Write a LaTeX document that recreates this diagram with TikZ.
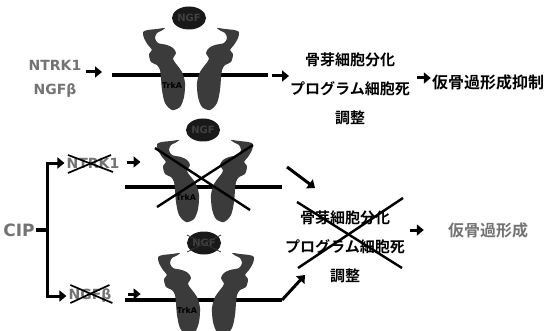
\documentclass[tikz,border=0pt]{standalone}
\usepackage{fontspec}
\usepackage{tikz}
\usetikzlibrary{arrows.meta}
\usetikzlibrary{calc}
\usetikzlibrary{shapes.geometric}
\setmainfont{DejaVu Sans}
\newfontfamily\genefont{DejaVu Sans Bold}
\newfontfamily\jpfont{Noto Sans CJK JP Bold}
\definecolor{labelgray}{gray}{0.45}
\definecolor{trkgray}{gray}{0.23}
\definecolor{ngfdark}{gray}{0.1}
\tikzset{arr/.style={line width=3pt,-{Triangle[length=7pt,width=11pt]}},
  memb/.style={line width=3.2pt},
  cross/.style={line width=2.4pt},
  gene/.style={font=\genefont\fontsize{14}{16}\selectfont,text=labelgray,inner sep=1pt},
  effect/.style={font=\jpfont\fontsize{15}{29}\selectfont,align=center,inner sep=1pt},
  ngf/.style={ellipse,fill=ngfdark,minimum width=34pt,minimum height=23pt,inner sep=0pt,
    text=black!75,font=\genefont\fontsize{10}{10}\selectfont},
  trk/.style={inner sep=0pt,font=\genefont\fontsize{8}{8}\selectfont}}

% left half of TrkA, horn at the top; the right half is its mirror
\newcommand{\trkhalf}{plot[smooth cycle,tension=0.5] coordinates {
  (-26,-47) (-34,-46) (-43,-45) (-48,-43) (-47,-37) (-43,-30) (-39,-25)
  (-42,-21) (-40,-13) (-34,-10) (-31,-5) (-30,3) (-29,15) (-26,28) (-19,35)
  (-11,32) (-7,22) (-6,8) (-9,-3) (-14,-10) (-18,-16) (-15,-22) (-18,-27)
  (-24,-30) (-33,-32) (-36,-37) (-34,-42) (-30,-44)}}

% receptor pair with NGF above it
\newcommand{\receptor}[2]{%
  \begin{scope}[shift={#1}]
    \fill[trkgray] \trkhalf;
    \fill[trkgray,xscale=-1] \trkhalf;
    \node[trk] (trk#2) at (-19,10) {TrkA};
    \node[ngf] (ngf#2) at (-2,-57) {NGF};
  \end{scope}}

\begin{document}
\begin{tikzpicture}[x=1pt,y=-1pt]
\useasboundingbox (0,0) rectangle (545,331);

% normal signalling
\node[gene] (ntrkA) at (55,65) {NTRK1};
\node[gene] (ngfbA) at (55,91) {NGFβ};
\coordinate (mA1) at (112,75);
\coordinate (mA2) at (268,75);
\draw[memb] (mA1) -- (mA2);
\receptor{(191,75)}{A}
\draw[arr] ($(ntrkA.east)+(3,7)$) -- ($(mA1)+(-10,-3)$);
\node[effect] (effA) at (350,89) {骨芽細胞分化\\プログラム細胞死\\調整};
\node[effect,font=\jpfont\fontsize{16}{20}\selectfont] (outA) at (488,82) {仮骨過形成抑制};
\draw[arr] ($(mA2)+(4,1)$) -- ($(effA.west)+(0,-13)$);
\draw[arr] ($(effA.east)+(6,-11)$) -- ($(outA.west)+(0,-4)$);

% CIP blocks both branches
\node[gene,font=\genefont\fontsize{17}{19}\selectfont] (cip) at (19,230) {CIP};
\coordinate (br) at (47,230);
\draw[memb] (cip.east) -- (br);
\node[gene] (ntrkB) at (93,163) {NTRK1};
\node[gene] (ngfbB) at (90,296) {NGFβ};
\draw[arr,shorten >=1pt] (br) |- (ntrkB.west);
\draw[arr,shorten >=1pt] (br) |- (ngfbB.west);
\draw[cross,line width=1.7pt] ($(ntrkB.west)+(2.5,-8)$) -- ($(ntrkB.west)+(47.5,9)$);
\draw[cross,line width=1.7pt] ($(ntrkB.west)+(45.5,-8)$) -- ($(ntrkB.west)+(2.5,10)$);
\draw[cross,line width=1.7pt] ($(ngfbB.west)+(3,-11)$) -- ($(ngfbB.west)+(45,7)$);
\draw[cross,line width=1.7pt] ($(ngfbB.west)+(42,-11)$) -- ($(ngfbB.west)+(3,7)$);

% NTRK1 branch
\coordinate (mB1) at (125,187);
\coordinate (mB2) at (282,187);
\coordinate (rB) at (205,187);
\draw[memb] (mB1) -- (mB2);
\receptor{(rB)}{B}
\draw[cross] ($(rB)+(-50,-39)$) -- ($(rB)+(45,23)$);
\draw[cross] ($(rB)+(48,-42)$) -- ($(rB)+(-48,20)$);
\draw[arr] ($(ntrkB.east)+(6,-1)$) -- ($(ntrkB.east)+(20,-1)$);
\draw[arr] ($(mB2)+(5,-20)$) -- ($(mB2)+(33,1)$);

% NGF branch
\coordinate (mC1) at (125,300);
\coordinate (mC2) at (282,300);
\draw[memb] (mC1) -- (mC2);
\receptor{(206,300)}{C}
\draw[black!80,line width=0.8pt] ($(ngfC.center)+(-17,-8)$) -- ($(ngfC.center)+(17,9)$);
\draw[black!80,line width=0.8pt] ($(ngfC.center)+(17,-8)$) -- ($(ngfC.center)+(-17,9)$);
\draw[arr] ($(ngfbB.east)+(15,-2)$) -- ($(ngfbB.east)+(28,-2)$);
\draw[arr] (mC2) -- ($(mC2)+(23,-25)$);

% blocked outcome
\node[effect] (effB) at (345,247) {骨芽細胞分化\\プログラム細胞死\\調整};
\draw[cross] ($(effB.center)+(-48,-45)$) -- ($(effB.center)+(57,21)$);
\draw[cross] ($(effB.center)+(58,-49)$) -- ($(effB.center)+(-47,21)$);
\node[effect,font=\jpfont\fontsize{16}{20}\selectfont,text=labelgray] (outB) at (488,230) {仮骨過形成};
\draw[arr] ($(outB.west)+(-37,0)$) -- ($(outB.west)+(-23,0)$);
\end{tikzpicture}
\end{document}
